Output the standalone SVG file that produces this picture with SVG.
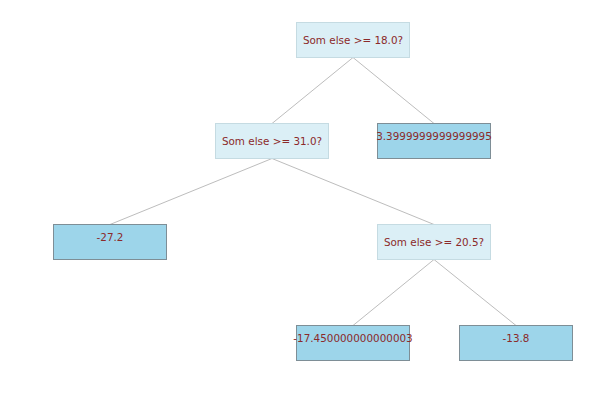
<svg xmlns="http://www.w3.org/2000/svg" width="600" height="400" viewBox="0 0 600 400">
<style>
.dec rect{fill:#dbeff6;stroke:#c5dbe2;stroke-width:1}
.leaf rect{fill:#9dd5ea;stroke:#7e8e96;stroke-width:1}
text{font-family:"DejaVu Sans",sans-serif;font-size:10.4px;fill:#8b2a2a;text-anchor:middle}
#edges line{stroke:#bdbdbd;stroke-width:1}
</style>
<rect width="600" height="400" fill="#ffffff"/>
<g id="edges">
<line x1="353" y1="57.5" x2="272" y2="123.5"/>
<line x1="353" y1="57.5" x2="434" y2="123.5"/>
<line x1="272" y1="158.5" x2="110" y2="224.5"/>
<line x1="272" y1="158.5" x2="434" y2="224.5"/>
<line x1="434" y1="259.5" x2="353" y2="325.5"/>
<line x1="434" y1="259.5" x2="516" y2="325.5"/>
</g>
<g id="n1" class="dec"><rect x="296.5" y="22.5" width="113" height="35"/><text x="353" y="44">Som else &gt;= 18.0?</text></g>
<g id="n2" class="dec"><rect x="215.5" y="123.5" width="113" height="35"/><text x="272" y="145">Som else &gt;= 31.0?</text></g>
<g id="n3" class="leaf"><rect x="377.5" y="123.5" width="113" height="35"/><text x="434" y="139.5">3.3999999999999995</text></g>
<g id="n4" class="leaf"><rect x="53.5" y="224.5" width="113" height="35"/><text x="110" y="240.5">-27.2</text></g>
<g id="n5" class="dec"><rect x="377.5" y="224.5" width="113" height="35"/><text x="434" y="246">Som else &gt;= 20.5?</text></g>
<g id="n6" class="leaf"><rect x="296.5" y="325.5" width="113" height="35"/><text x="353" y="341.5">-17.450000000000003</text></g>
<g id="n7" class="leaf"><rect x="459.5" y="325.5" width="113" height="35"/><text x="516" y="341.5">-13.8</text></g>
</svg>
